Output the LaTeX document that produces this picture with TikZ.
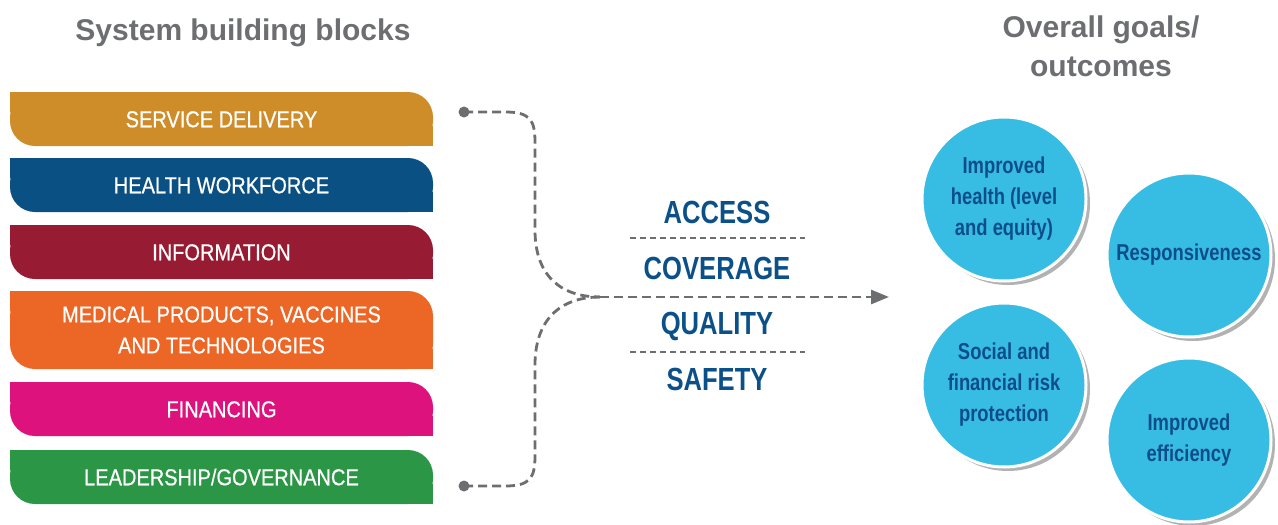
\documentclass[tikz,border=0pt]{standalone}
\usepackage{fontspec}
\setmainfont{Liberation Sans}
\newfontfamily\blkfamily{Liberation Sans}[FakeStretch=0.87, FakeBold=0.6]
\newfontfamily\midfamily{Liberation Sans}[FakeStretch=0.80]
\usetikzlibrary{arrows.meta,shadows,backgrounds}
\definecolor{cSD}{HTML}{CF8D2A}
\definecolor{cHW}{HTML}{0A5083}
\definecolor{cIN}{HTML}{971B32}
\definecolor{cMP}{HTML}{EC6726}
\definecolor{cFI}{HTML}{DE127C}
\definecolor{cLG}{HTML}{2C9647}
\definecolor{cGray}{HTML}{6D6E71}
\definecolor{cMid}{HTML}{0B5088}
\definecolor{cCirc}{HTML}{37BDE3}
\definecolor{cCtext}{HTML}{0D4E8A}
\tikzset{
  blk/.style={rounded corners=25pt, minimum width=423pt, text=white,
    font=\blkfamily\fontsize{23}{31}\selectfont, align=center, inner sep=0pt},
  oneline/.style={text height=16.5pt, text depth=0pt},
  goal/.style={circle, minimum size=164pt, inner sep=0pt, fill=cCirc, draw=white,
    line width=3pt, text=cCtext, align=center,
    font=\midfamily\bfseries\fontsize{23}{31}\selectfont,
    drop shadow={shadow xshift=4pt, shadow yshift=-4pt, fill=black, opacity=0.3}},
  conn/.style={draw=cGray, line width=2.8pt, dash pattern=on 9pt off 5pt},
  sepline/.style={draw=cGray, line width=2pt, dash pattern=on 6pt off 4pt},
  mid/.style={text=cMid, font=\midfamily\bfseries\fontsize{32}{36}\selectfont,
    inner sep=0pt, text height=23pt, text depth=0pt},
  ttl/.style={text=cGray, font=\bfseries\fontsize{30}{38.5}\selectfont,
    align=center, inner sep=0pt},
  dotn/.style={circle, fill=cGray, minimum size=11pt, inner sep=0pt}
}
\newcommand\blockbox[6]{%
  \node[blk, fill=#2, minimum height=#4pt, #6] (#1) at (221.5,#3) {#5};
  \begin{pgfonlayer}{background}
    \fill[#2] (#1.north west) rectangle ++(40,20);
    \fill[#2] (#1.south east) rectangle ++(-40,-20);
  \end{pgfonlayer}}
\begin{document}
\begin{tikzpicture}[x=1pt,y=-1pt]
\useasboundingbox (0,0) rectangle (1278,525);

% titles
\node[ttl, anchor=base] (t1) at (243,40) {System building blocks};
\node[ttl] (t2) at (1101,46.5) {Overall goals/\\outcomes};

% building blocks
\blockbox{sd}{cSD}{119}{54}{SERVICE DELIVERY}{oneline}
\blockbox{hw}{cHW}{185}{54}{HEALTH WORKFORCE}{oneline}
\blockbox{inf}{cIN}{252}{54}{INFORMATION}{oneline}
\blockbox{mp}{cMP}{330}{78}{MEDICAL PRODUCTS, VACCINES\\AND TECHNOLOGIES}{}
\blockbox{fi}{cFI}{409}{54}{FINANCING}{oneline}
\blockbox{lg}{cLG}{477}{54}{LEADERSHIP/GOVERNANCE}{oneline}

% connectors
\node[dotn] (d1) at (464,112) {};
\node[dotn] (d2) at (464,486) {};
\coordinate (j) at (600,297);
\coordinate (e) at (889,297);
\draw[conn] (d1.center) -- (505,112) .. controls (530,112) and (535,120) .. (535,142)
  -- (535,230) .. controls (535,275) and (560,297) .. (j);
\draw[conn] (d2.center) -- (505,486) .. controls (530,486) and (535,478) .. (535,456)
  -- (535,365) .. controls (535,320) and (560,297) .. (j);
\draw[conn, -{Triangle[length=18pt,width=14pt]}] (j) -- (e);

% middle words
\node[mid] (acc) at (717,211.5) {ACCESS};
\node[mid] (cov) at (717,267.5) {COVERAGE};
\node[mid] (qua) at (717,322.5) {QUALITY};
\node[mid] (saf) at (717,378.5) {SAFETY};
\coordinate (s1a) at (630,238);
\coordinate (s1b) at (805,238);
\coordinate (s2a) at (630,352);
\coordinate (s2b) at (805,352);
\draw[sepline] (s1a) -- (s1b);
\draw[sepline] (s2a) -- (s2b);

% goals
\node[goal] (g1) at (1004,199) {Improved\\health (level\\and equity)};
\node[goal] (g2) at (1189,255) {Responsiveness};
\node[goal] (g3) at (1004,385) {Social and\\financial risk\\protection};
\node[goal] (g4) at (1189,440) {Improved\\efficiency};
\end{tikzpicture}
\end{document}
